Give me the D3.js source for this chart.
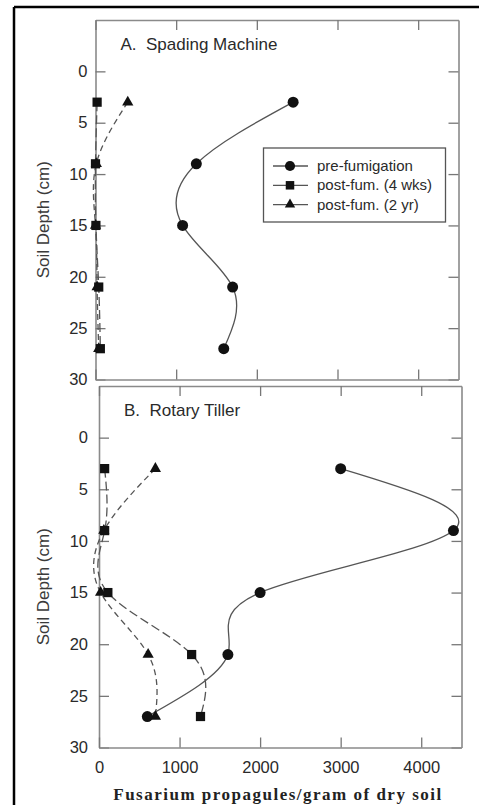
<!doctype html>
<html>
<head>
<meta charset="utf-8">
<script src="https://d3js.org/d3.v7.min.js"></script>
<style>
  body { margin: 0; background: #fff; }
  svg { display: block; font-family: "Liberation Sans", Arial, sans-serif; }
</style>
</head>
<body>
<div class="chart"></div>
<script>
// soil depths sampled (cm)
var depths = [3, 9, 15, 21, 27];

// panel A - spading machine
var preA   = [2450, 1250, 1080, 1700, 1590];
var wk4A   = [20, 0, 5, 40, 60];
var yr2A   = [400, 10, 0, 20, 40];

// panel B - rotary tiller
var preB   = [3000, 4400, 2000, 1600, 600];
var wk4B   = [70, 70, 110, 1150, 1260];
var yr2B   = [700, 60, 20, 610, 700];

var seriesNames = ["pre-fumigation", "post-fum. (4 wks)", "post-fum. (2 yr)"];
var depthTicks = [0, 5, 10, 15, 20, 25, 30];
var countTicks = [0, 1000, 2000, 3000, 4000];

var width = 479, height = 805;

var svg = d3.select('.chart')
  .append('svg')
  .attr('width', width)
  .attr('height', height);

// outer frame (left + top only, picture is cropped on the right)
svg.append('line').attr('x1', 14).attr('y1', 7).attr('x2', 14).attr('y2', height)
  .style('stroke', '#000').style('stroke-width', 2.5);
svg.append('line').attr('x1', 14).attr('y1', 7).attr('x2', width).attr('y2', 7)
  .style('stroke', '#000').style('stroke-width', 2.5);

var symbols = [d3.symbolCircle, d3.symbolSquare, d3.symbolTriangle];
var symSizes = [95, 85, 55];
var dashes = [null, "9,4", "6,4"];

function panel(cfg) {
  var x = d3.scaleLinear().domain([0, 4500]).range([cfg.left, cfg.right]);
  var y = d3.scaleLinear().domain([-5, 30]).range([cfg.top, cfg.bottom]);

  var g = svg.append('g');

  // axes, ticks pointing inward on all four sides
  var left = g.append('g').attr('transform', 'translate(' + cfg.left + ',0)')
    .call(d3.axisLeft(y).tickValues(depthTicks).tickSizeInner(-10).tickSizeOuter(0).tickPadding(cfg.ypad));
  var right = g.append('g').attr('transform', 'translate(' + cfg.right + ',0)')
    .call(d3.axisRight(y).tickValues(depthTicks).tickSizeInner(-10).tickSizeOuter(0).tickFormat(''));
  var top = g.append('g').attr('transform', 'translate(0,' + cfg.top + ')')
    .call(d3.axisTop(x).tickValues(countTicks).tickSizeInner(-10).tickSizeOuter(0).tickFormat(''));
  var bottom = g.append('g').attr('transform', 'translate(0,' + cfg.bottom + ')')
    .call(d3.axisBottom(x).tickValues(countTicks).tickSizeInner(-10).tickSizeOuter(0)
      .tickPadding(14).tickFormat(d3.format('d')));
  if (!cfg.xlabels) bottom.selectAll('text').remove();

  [left, right, top, bottom].forEach(function(a) {
    a.select('.domain').style('stroke', '#8a8a8a').style('stroke-width', 1.6);
    a.selectAll('.tick line').style('stroke', '#777').style('stroke-width', 1.3);
    a.selectAll('text').style('font-size', '16.5px').style('fill', '#2a2a2a')
      .style('font-family', '"Liberation Sans", Arial, sans-serif');
  });

  // y label
  g.append('text')
    .attr('transform', 'translate(' + 49 + ',' + ((cfg.top + cfg.bottom) / 2 + 20) + ') rotate(-90)')
    .attr('text-anchor', 'middle')
    .style('font-size', '17px').style('fill', '#3a3a3a')
    .text('Soil Depth (cm)');

  // panel title
  g.append('text')
    .attr('x', cfg.left + 25).attr('y', cfg.top + 30)
    .attr('xml:space', 'preserve')
    .style('font-size', '17px').style('fill', '#2a2a2a')
    .text(cfg.title);

  var line = d3.line()
    .x(function(d) { return x(d.v); })
    .y(function(d) { return y(d.depth); })
    .curve(d3.curveNatural);

  var sets = cfg.series.map(function(vals) {
    return vals.map(function(v, i) { return { v: v, depth: depths[i] }; });
  });

  // lines
  sets.forEach(function(pts, s) {
    g.append('path')
      .datum(pts)
      .attr('d', line)
      .style('fill', 'none')
      .style('stroke', '#555')
      .style('stroke-width', 1.3)
      .style('stroke-dasharray', dashes[s]);
  });

  // markers: triangles, then squares, then circles on top
  [2, 1, 0].forEach(function(s) {
    g.append('g').selectAll('path')
      .data(sets[s])
      .enter()
      .append('path')
      .attr('d', d3.symbol().type(symbols[s]).size(symSizes[s]))
      .attr('transform', function(d) { return 'translate(' + x(d.v) + ',' + y(d.depth) + ')'; })
      .style('fill', '#111');
  });

  return g;
}

panel({ left: 95.5, right: 458.5, top: 20, bottom: 379.5, ypad: 8, xlabels: false,
        title: 'A.  Spading Machine', series: [preA, wk4A, yr2A] });
panel({ left: 99, right: 461.5, top: 386, bottom: 747.5, ypad: 11, xlabels: true,
        title: 'B.  Rotary Tiller', series: [preB, wk4B, yr2B] });

// legend in panel A
var legend = svg.append('g');
legend.append('rect')
  .attr('x', 263.5).attr('y', 148).attr('width', 182).attr('height', 74)
  .style('fill', '#fff').style('stroke', '#555').style('stroke-width', 1.3);

var legendRows = legend.selectAll('.row')
  .data(seriesNames)
  .enter()
  .append('g')
  .attr('class', 'row')
  .attr('transform', function(d, i) { return 'translate(0,' + (166 + i * 19.3) + ')'; });

legendRows.append('line')
  .attr('x1', 273).attr('x2', 308).attr('y1', 0).attr('y2', 0)
  .style('stroke', '#555').style('stroke-width', 1.3);
legendRows.append('path')
  .attr('d', function(d, i) { return d3.symbol().type(symbols[i]).size(symSizes[i] * 0.85)(); })
  .attr('transform', 'translate(290,0)')
  .style('fill', '#111');
legendRows.append('text')
  .attr('x', 317).attr('y', 5)
  .style('font-size', '15px').style('fill', '#2a2a2a')
  .text(function(d) { return d; });

// x axis title
svg.append('text')
  .attr('x', 278).attr('y', 800)
  .attr('text-anchor', 'middle')
  .style('font-family', '"Liberation Serif", "Times New Roman", serif')
  .style('font-weight', 'bold')
  .style('font-size', '17px')
  .style('letter-spacing', '1.5px')
  .style('fill', '#222')
  .text('Fusarium propagules/gram of dry soil');
</script>
</body>
</html>
